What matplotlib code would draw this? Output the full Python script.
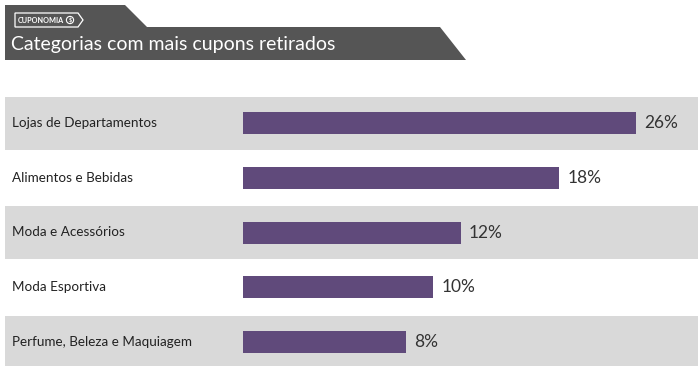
import matplotlib.pyplot as plt
from matplotlib.patches import Polygon, Rectangle, Circle

# Data
categories = ["Lojas de Departamentos", "Alimentos e Bebidas", "Moda e Acessórios",
              "Moda Esportiva", "Perfume, Beleza e Maquiagem"]
pct_labels = [26, 18, 12, 10, 8]
# bar lengths as drawn (the picture is not proportional to the labels)
bar_len = [26, 20.9, 14.4, 12.6, 10.8]

plt.rcParams['font.family'] = ['Lato', 'DejaVu Sans']

fig = plt.figure(figsize=(7, 3.66), dpi=100)

# background layer in pixel units
bg = fig.add_axes([0, 0, 1, 1])
bg.set_xlim(0, 700)
bg.set_ylim(366, 0)
bg.axis('off')

# header shape
header = Polygon([(5, 5), (125, 5), (147, 27), (440, 27), (466, 60), (5, 60)],
                 closed=True, facecolor='#555555', edgecolor='none')
bg.add_patch(header)
bg.text(11, 44.5, "Categorias com mais cupons retirados", color='white',
        fontsize=14, fontweight='normal', va='center', ha='left')

# little logo tag
tag = Polygon([(15, 13), (78, 13), (83, 20), (78, 27), (15, 27)], closed=True,
              facecolor='none', edgecolor='white', linewidth=0.9)
bg.add_patch(tag)
bg.text(18, 20.3, "CUPONOMIA", color='white', fontsize=5.2, fontweight='bold',
        va='center', ha='left')
bg.add_patch(Circle((70, 20), 3.6, facecolor='none', edgecolor='white', linewidth=0.8))
bg.text(70, 20.3, "$", color='white', fontsize=4, fontweight='bold', va='center', ha='center')

# alternating gray bands and category labels
row0, step = 123, 54.75
for i, cat in enumerate(categories):
    yc = row0 + i * step
    if i % 2 == 0:
        bg.add_patch(Rectangle((5, yc - 26.5), 693, 53, facecolor='#d9d9d9', edgecolor='none'))
    bg.text(12, yc, cat, color='#222222', fontsize=9.7, va='center', ha='left')

# bar layer: x from 243px (0) to 636px (26)
left, right = 243 / 700, 636 / 700
top_px = row0 - step / 2
bot_px = row0 + 4.5 * step
ax = fig.add_axes([left, (366 - bot_px) / 366, right - left, (bot_px - top_px) / 366])
ax.set_xlim(0, 26)
ax.set_ylim(4.5, -0.5)
ax.axis('off')
ax.patch.set_alpha(0)

ys = range(len(categories))
ax.barh(ys, bar_len, height=22 / step, color='#604a7b')
for y, v, p in zip(ys, bar_len, pct_labels):
    ax.annotate(f"{p}%", (v, y), xytext=(6, 0), textcoords='offset points',
                va='center', ha='left', fontsize=12.5, color='#333333',
                annotation_clip=False)

fig.savefig('out.png', dpi=100)
